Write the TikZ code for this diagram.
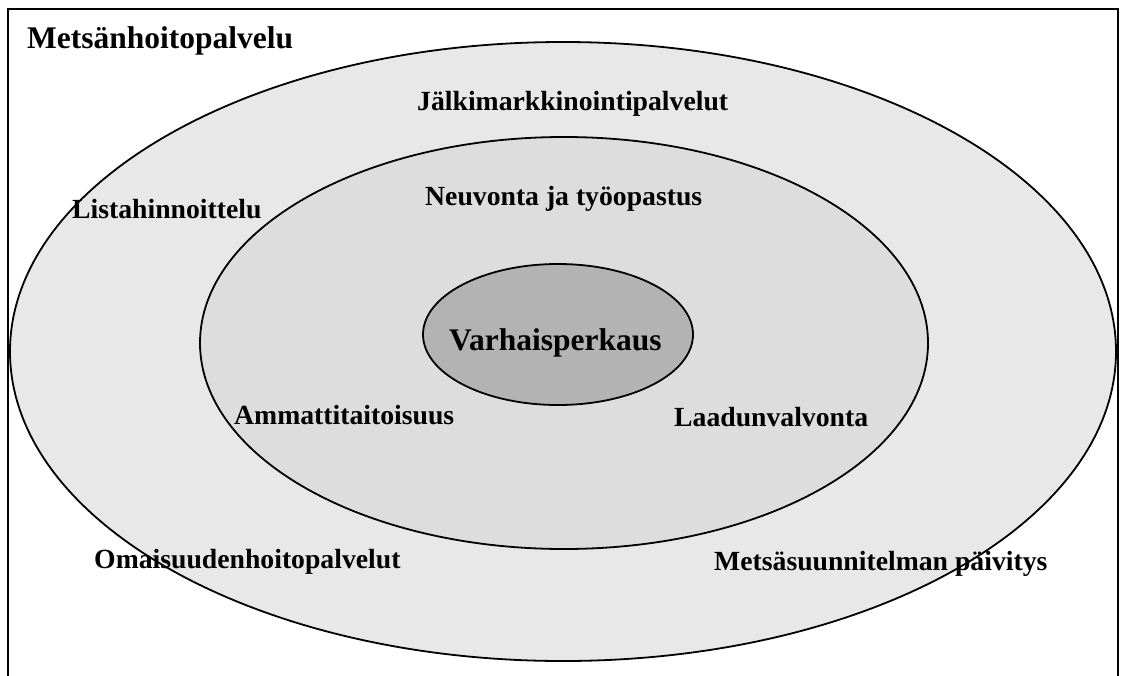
\documentclass[tikz,border=0pt]{standalone}
\usepackage{fontspec}
\setmainfont{Liberation Serif}
\definecolor{outerfill}{HTML}{E8E8E8}
\definecolor{midfill}{HTML}{DDDDDD}
\definecolor{innerfill}{HTML}{B3B3B3}
\tikzset{
  ring/.style={draw=black, line width=1.8pt},
  lbl/.style={inner sep=0pt, anchor=base west, font=\bfseries\fontsize{27.7}{30}\selectfont},
  biglbl/.style={inner sep=0pt, anchor=base west, font=\bfseries\fontsize{31.5}{34}\selectfont},
  frame/.style={draw=black, line width=1.8pt}
}
\begin{document}
\begin{tikzpicture}[x=1pt,y=-1pt]
\useasboundingbox (0,0) rectangle (1123,675);
% frame
\draw[frame] (8,676) -- (8,9) -- (1118,9) -- (1118,676);
% ellipses
\draw[ring, fill=outerfill] (563,351.5) ellipse [x radius=553, y radius=309.5];
\draw[ring, fill=midfill] (564,343) ellipse [x radius=364, y radius=206];
\draw[ring, fill=innerfill] (558,334.5) ellipse [x radius=135, y radius=70.5];
% labels
\node[biglbl] (title) at (27,48) {Metsänhoitopalvelu};
\node[lbl] (jalki) at (417,110) {Jälkimarkkinointipalvelut};
\node[lbl] (lista) at (72,218) {Listahinnoittelu};
\node[lbl] (neuv) at (425,205) {Neuvonta ja työopastus};
\node[biglbl] (varh) at (449,350) {Varhaisperkaus};
\node[lbl] (amm) at (234,424) {Ammattitaitoisuus};
\node[lbl] (laad) at (674,426) {Laadunvalvonta};
\node[lbl] (omai) at (94,568) {Omaisuudenhoitopalvelut};
\node[lbl] (mets) at (714,570) {Metsäsuunnitelman päivitys};
\end{tikzpicture}
\end{document}
